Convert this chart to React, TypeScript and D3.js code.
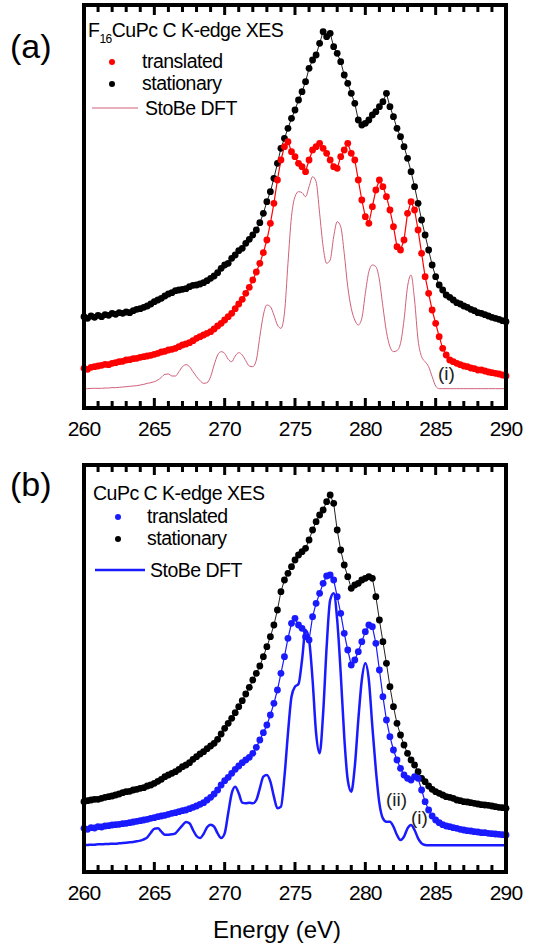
import React from "react";
import * as d3 from "d3";

// Energy grid: first value and spacing (eV)
const E_START = 260;
const E_STEP = 0.25;
const X_DOMAIN = [260, 290];
const X_TICK_LABELS = ["260", "265", "270", "275", "280", "285", "290"];

// Panel (a) F16CuPc
const aStationary = [
  27.4, 26.9, 27.6, 27.2, 27.8, 27.4, 28.0, 27.8,
  28.4, 28.1, 28.6, 28.4, 28.8, 28.6, 29.2, 29.6,
  29.8, 30.2, 30.6, 31.2, 31.9, 32.4, 32.9, 33.6,
  34.2, 34.6, 35.2, 35.4, 35.6, 35.8, 36.4, 36.8,
  36.9, 37.2, 37.6, 38.2, 38.9, 39.6, 40.6, 41.9,
  42.9, 43.4, 44.9, 45.9, 47.2, 47.9, 49.4, 50.6,
  51.9, 53.4, 55.6, 58.4, 61.9, 64.9, 68.9, 73.4,
  77.9, 80.9, 83.9, 86.9, 89.4, 92.4, 94.9, 97.9,
  101.9, 104.4, 105.9, 109.4, 112.9, 111.4, 112.4, 108.4,
  106.4, 103.9, 99.9, 97.4, 94.4, 91.4, 86.4, 84.9,
  85.4, 86.4, 87.9, 88.9, 90.4, 91.9, 94.4, 90.4,
  87.4, 83.9, 81.4, 78.4, 74.9, 70.9, 66.4, 61.4,
  56.4, 51.9, 47.4, 42.9, 39.4, 36.9, 35.4, 33.9,
  33.2, 32.4, 31.6, 31.2, 30.6, 30.2, 29.6, 29.2,
  28.6, 28.4, 28.0, 27.6, 27.2, 26.9, 26.6, 26.2,
  25.9,
];
const aTranslated = [
  11.9, 11.6, 12.2, 12.4, 12.6, 12.8, 13.1, 13.0,
  13.4, 13.6, 13.9, 14.0, 14.4, 14.5, 14.8, 14.9,
  15.2, 15.4, 15.6, 15.8, 16.1, 16.4, 16.8, 17.0,
  17.4, 17.6, 17.9, 18.4, 18.9, 19.2, 19.6, 20.2,
  20.9, 21.4, 21.9, 22.4, 22.9, 23.7, 24.6, 25.4,
  26.4, 27.4, 28.4, 29.8, 31.2, 32.6, 34.4, 36.2,
  38.4, 40.8, 43.4, 46.6, 50.4, 55.4, 61.4, 68.4,
  74.4, 78.4, 79.9, 76.9, 75.4, 73.4, 72.4, 70.9,
  74.4, 77.4, 78.4, 79.4, 77.9, 76.4, 74.4, 72.4,
  71.9, 75.4, 77.4, 79.4, 76.4, 74.4, 68.4, 62.4,
  57.4, 55.4, 60.4, 65.4, 68.4, 66.4, 63.4, 59.4,
  54.4, 48.4, 47.4, 50.4, 58.4, 61.9, 59.4, 53.4,
  46.4, 39.4, 34.4, 29.4, 25.4, 21.4, 17.9, 15.9,
  14.4, 13.9, 13.4, 13.0, 12.6, 12.4, 12.0, 11.8,
  11.4, 11.4, 11.1, 10.8, 10.6, 10.4, 10.2, 9.9,
  9.6,
];
const aDft = [
  5.8, 5.8, 5.9, 5.9, 5.9, 5.9, 6.0, 6.0,
  6.1, 6.1, 6.2, 6.3, 6.4, 6.5, 6.6, 6.7,
  6.9, 7.1, 7.4, 7.6, 7.9, 8.4, 9.2, 10.1,
  10.2, 9.6, 9.6, 10.9, 12.4, 13.0, 12.4, 10.9,
  9.4, 8.2, 7.4, 7.6, 9.4, 12.9, 15.9, 16.9,
  16.4, 14.6, 13.9, 15.6, 16.6, 15.9, 14.2, 12.6,
  12.4, 14.4, 21.4, 27.9, 30.9, 30.4, 27.9, 24.9,
  23.9, 28.4, 43.4, 57.4, 63.4, 64.9, 64.6, 63.4,
  66.4, 69.4, 67.9, 58.4, 48.4, 43.4, 44.4, 51.4,
  55.9, 54.4, 46.4, 36.4, 29.9, 26.4, 24.9, 26.9,
  34.4, 40.9, 42.9, 42.4, 38.4, 30.4, 22.9, 18.4,
  16.9, 17.2, 19.4, 26.4, 36.4, 39.9, 32.4, 20.4,
  15.4, 13.9, 12.4, 9.4, 6.6, 5.8, 5.8, 5.8,
  5.8, 5.8, 5.8, 5.8, 5.8, 5.8, 5.8, 5.8,
  5.8, 5.8, 5.8, 5.8, 5.8, 5.8, 5.8, 5.8,
  5.8,
];

// Panel (b) CuPc
const bStationary = [
  21.1, 21.4, 21.6, 21.8, 21.8, 22.1, 22.4, 22.6,
  22.8, 23.1, 23.4, 23.8, 24.1, 24.2, 24.6, 24.8,
  25.1, 25.3, 25.8, 26.1, 26.6, 27.2, 27.8, 28.6,
  29.1, 29.6, 30.1, 30.8, 31.6, 32.1, 32.8, 33.8,
  34.6, 35.4, 36.1, 37.0, 37.8, 38.6, 39.8, 41.4,
  43.1, 44.6, 46.1, 47.8, 49.6, 51.4, 53.4, 55.4,
  57.6, 59.6, 61.8, 64.6, 67.6, 70.6, 74.1, 78.6,
  84.1, 87.6, 89.6, 91.6, 93.6, 95.1, 96.1, 97.1,
  99.6, 102.6, 105.1, 107.1, 108.6, 111.1, 113.1, 110.6,
  102.6, 96.6, 92.1, 88.6, 85.1, 86.1, 86.6, 87.6,
  88.1, 88.6, 88.1, 82.6, 75.6, 69.1, 62.6, 55.6,
  49.6, 44.6, 41.1, 38.1, 35.6, 33.6, 32.1, 30.1,
  28.1, 27.1, 25.8, 24.8, 24.1, 23.6, 23.1, 22.6,
  22.4, 22.1, 21.6, 21.4, 21.1, 21.0, 20.8, 20.6,
  20.4, 20.2, 20.1, 20.0, 19.8, 19.6, 19.4, 19.3,
  19.1,
];
const bTranslated = [
  13.1, 12.8, 13.3, 13.2, 13.6, 13.5, 13.8, 13.9,
  14.1, 14.2, 14.3, 14.5, 14.6, 14.8, 15.0, 15.2,
  15.4, 15.6, 15.8, 16.1, 16.3, 16.6, 16.8, 17.0,
  17.3, 17.6, 17.8, 18.1, 18.4, 18.6, 19.0, 19.4,
  19.8, 20.3, 20.8, 21.6, 22.4, 23.4, 24.6, 26.1,
  27.4, 28.4, 29.6, 30.8, 31.8, 32.8, 33.6, 34.4,
  35.6, 37.4, 39.6, 41.8, 44.1, 47.1, 50.6, 54.6,
  59.6, 64.6, 70.1, 74.6, 76.1, 74.1, 73.1, 70.6,
  69.6, 76.6, 80.6, 83.6, 86.6, 88.8, 89.1, 87.6,
  82.6, 77.6, 71.6, 66.6, 62.1, 63.6, 66.1, 69.1,
  72.1, 74.1, 73.6, 68.6, 60.6, 52.6, 45.6, 40.6,
  36.6, 33.6, 31.1, 29.1, 28.1, 27.6, 28.6, 28.1,
  24.6, 21.1, 18.6, 16.8, 15.6, 14.8, 14.2, 13.8,
  13.6, 13.3, 13.1, 12.8, 12.6, 12.4, 12.3, 12.1,
  12.0, 11.8, 11.8, 11.6, 11.5, 11.4, 11.3, 11.2,
  11.1,
];
const bDft = [
  8.1, 8.1, 8.2, 8.2, 8.3, 8.3, 8.4, 8.4,
  8.5, 8.5, 8.6, 8.7, 8.8, 8.9, 9.0, 9.2,
  9.4, 9.8, 10.4, 11.8, 13.0, 13.1, 12.1, 11.2,
  11.2, 11.3, 11.6, 12.8, 14.0, 15.0, 14.6, 12.6,
  10.8, 10.2, 11.4, 13.4, 14.2, 13.6, 11.6, 10.2,
  11.6, 17.6, 23.6, 25.6, 23.6, 20.8, 20.6, 20.8,
  20.6, 21.6, 25.1, 28.6, 29.1, 27.1, 22.6, 19.1,
  19.6, 28.6, 41.6, 52.6, 55.6, 56.4, 63.6, 72.6,
  69.6, 57.6, 41.6, 35.6, 47.6, 67.6, 81.6, 83.6,
  75.6, 59.6, 40.6, 27.6, 24.1, 31.6, 45.6, 57.6,
  62.6, 57.6, 43.6, 30.6, 20.6, 16.1, 15.1, 15.1,
  13.6, 11.1, 9.6, 10.6, 13.1, 14.1, 12.6, 10.1,
  8.6, 8.1, 8.0, 8.0, 8.0, 8.0, 8.0, 8.0,
  8.0, 8.0, 8.0, 8.0, 8.0, 8.0, 8.0, 8.0,
  8.0, 8.0, 8.0, 8.0, 8.0, 8.0, 8.0, 8.0,
  8.0,
];

const LEGEND_LABELS = ["translated", "stationary", "StoBe DFT"];
const FONT = "'Liberation Sans', Arial, Helvetica, sans-serif";
const INK = "#000000";

type Pt = [number, number];
const toPts = (arr: number[]): Pt[] => arr.map((v, i) => [E_START + i * E_STEP, v]);

function Panel(p: any) {
  const x = d3.scaleLinear().domain(X_DOMAIN).range([p.left, p.right]);
  const y = d3.scaleLinear().domain([0, p.yMax]).range([p.bottom, p.top]);
  const line = d3.line<Pt>().x((d) => x(d[0])).y((d) => y(d[1]));
  const smooth = d3.line<Pt>().x((d) => x(d[0])).y((d) => y(d[1])).curve(d3.curveMonotoneX);
  const sPts = toPts(p.stationary);
  const tPts = toPts(p.translated);
  const dPts = toPts(p.dft);
  const minor = x.ticks(30);
  const major = x.ticks(6);
  const fw = 4;
  return (
    <g>
      <text x={10} y={p.labelY} fontSize={34} fontFamily={FONT}>{p.panelLabel}</text>
      <path d={smooth(dPts) || ""} fill="none" stroke={p.dftColor} strokeWidth={p.dftWidth} />
      <path d={line(sPts) || ""} fill="none" stroke="#222" strokeWidth={1} />
      {sPts.map((d, i) => (
        <circle key={"s" + i} cx={x(d[0])} cy={y(d[1])} r={3.4} fill="#000" />
      ))}
      <path d={line(tPts) || ""} fill="none" stroke={p.transColor} strokeWidth={1.2} />
      {tPts.map((d, i) => (
        <circle key={"t" + i} cx={x(d[0])} cy={y(d[1])} r={3.4} fill={p.transColor} />
      ))}
      {minor.map((t) => {
        const isMajor = major.some((m) => Math.abs(m - t) < 1e-6);
        const len = isMajor ? 8 : 5;
        const xx = x(t);
        return (
          <g key={"tk" + t}>
            <line x1={xx} x2={xx} y1={p.bottom} y2={p.bottom - fw / 2 - len} stroke={INK} strokeWidth={3} />
            <line x1={xx} x2={xx} y1={p.top} y2={p.top + fw / 2 + len} stroke={INK} strokeWidth={3} />
          </g>
        );
      })}
      <rect x={p.left} y={p.top} width={p.right - p.left} height={p.bottom - p.top} fill="none" stroke={INK} strokeWidth={fw} />
      {major.map((t, i) => (
        <text key={"lb" + t} x={x(t)} y={p.bottom + 28} fontSize={21} fontFamily={FONT} textAnchor="middle" letterSpacing={-0.8}>
          {X_TICK_LABELS[i]}
        </text>
      ))}
      <text x={p.titleX} y={p.titleY} fontSize={19.5} fontFamily={FONT} letterSpacing={-0.5}>{p.title}</text>
      <circle cx={p.legendDotX} cy={p.legendRows[0] - 6} r={3} fill={p.transColor} />
      <text x={p.legendTextX} y={p.legendRows[0]} fontSize={19.5} fontFamily={FONT} letterSpacing={-0.5}>{LEGEND_LABELS[0]}</text>
      <circle cx={p.legendDotX} cy={p.legendRows[1] - 6} r={3} fill="#000" />
      <text x={p.legendTextX} y={p.legendRows[1]} fontSize={19.5} fontFamily={FONT} letterSpacing={-0.5}>{LEGEND_LABELS[1]}</text>
      <line x1={p.legendLine[0]} x2={p.legendLine[1]} y1={p.legendRows[2] - 7} y2={p.legendRows[2] - 7} stroke={p.dftColor} strokeWidth={p.dftWidth} />
      <text x={p.legendLineTextX} y={p.legendRows[2]} fontSize={19.5} fontFamily={FONT} letterSpacing={-0.5}>{LEGEND_LABELS[2]}</text>
      {p.annotations.map((a: any, i: number) => (
        <text key={"an" + i} x={a.x} y={a.y} fontSize={19} fontFamily={FONT} fill="#222">{a.text}</text>
      ))}
    </g>
  );
}

export default function App() {
  return (
    <svg width={533} height={949} style={{ position: "absolute", left: 0, top: 0 }}>
      <Panel
        top={5} bottom={408} left={84} right={506} yMax={120.9}
        stationary={aStationary} translated={aTranslated} dft={aDft}
        transColor="#ff0000" dftColor="#d0607a" dftWidth={1}
        panelLabel="(a)" labelY={58}
        title={<>F<tspan fontSize={12} dy={6}>16</tspan><tspan dy={-6}>CuPc C K-edge XES</tspan></>}
        titleX={88} titleY={37} legendDotX={112} legendTextX={142} legendRows={[68, 90, 115]}
        legendLine={[92, 138]} legendLineTextX={145}
        annotations={[{ text: "(i)", x: 438, y: 380 }]}
      />
      <Panel
        top={465} bottom={872} left={84} right={506} yMax={122.1}
        stationary={bStationary} translated={bTranslated} dft={bDft}
        transColor="#1a1aff" dftColor="#1a1aff" dftWidth={2.5}
        panelLabel="(b)" labelY={496} title={<>CuPc C K-edge XES</>}
        titleX={93} titleY={500} legendDotX={118} legendTextX={147} legendRows={[523, 545, 577]}
        legendLine={[95, 145]} legendLineTextX={150}
        annotations={[{ text: "(ii)", x: 386, y: 806 }, { text: "(i)", x: 411, y: 824 }]}
      />
      <text x={277} y={938} fontSize={24} fontFamily={FONT} textAnchor="middle">Energy (eV)</text>
    </svg>
  );
}
